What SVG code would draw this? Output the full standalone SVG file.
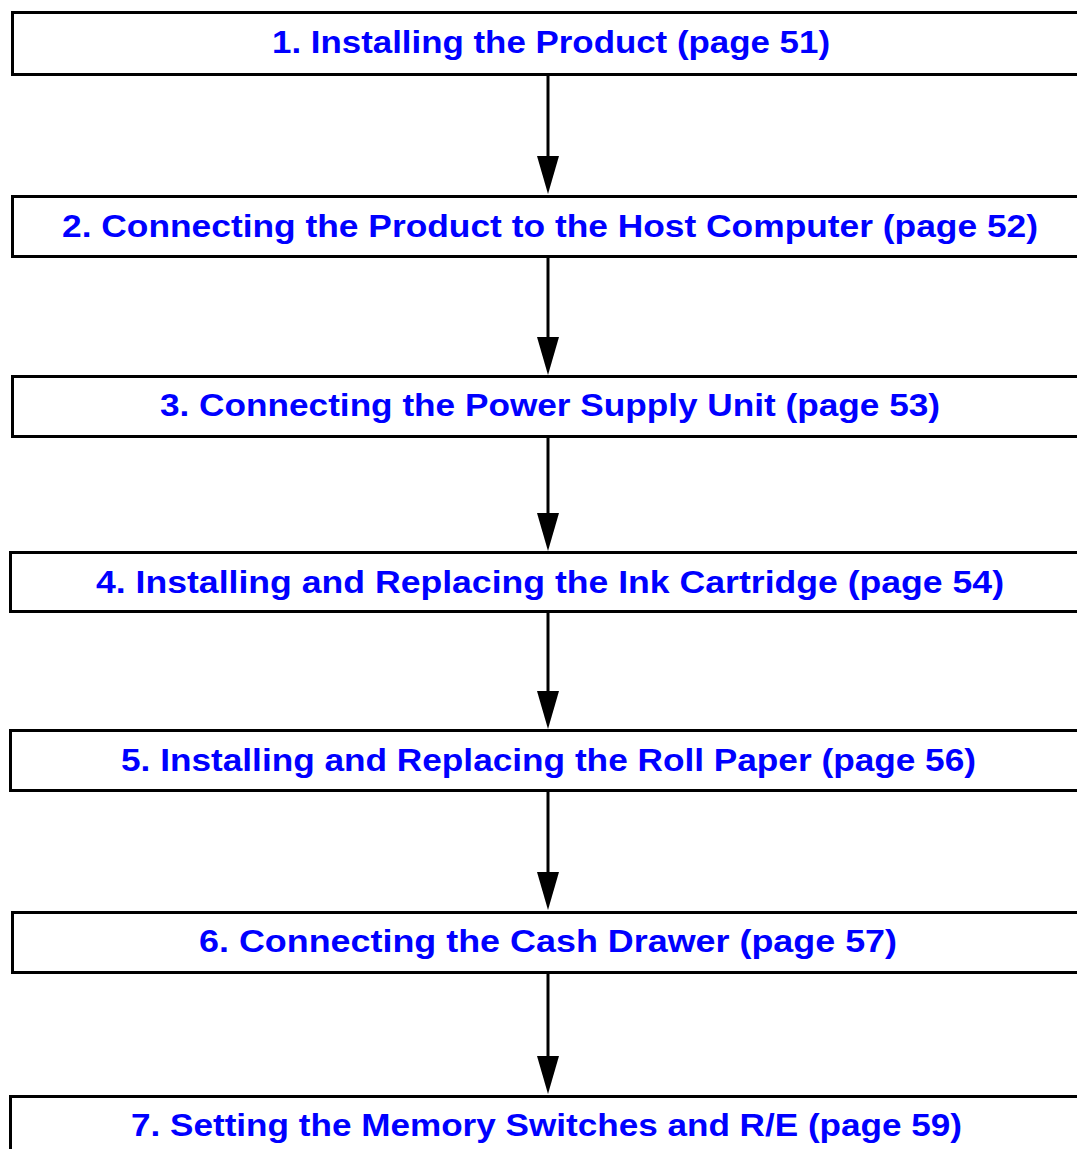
<svg xmlns="http://www.w3.org/2000/svg" width="1077" height="1149" viewBox="0 0 1077 1149">
<style>
.box{fill:#fff;stroke:#000;stroke-width:3}
.lbl{font-family:"Liberation Sans",Arial,sans-serif;font-weight:bold;font-size:32px;fill:#0000ff}
.conn{stroke:#000;stroke-width:3;fill:none}
</style>
<defs>
<marker id="ah" viewBox="0 0 22 38" refX="11" refY="38" markerWidth="22" markerHeight="38" markerUnits="userSpaceOnUse" orient="auto-start-reverse">
<path d="M0,0 L22,0 L11,38 Z" fill="#000"/>
</marker>
</defs>
<g id="connectors">
<line class="conn" x1="548" y1="75" x2="548" y2="157"/>
<path d="M537,156 L559,156 L548,194 Z"/>
<path class="conn" d="M548,257 V338"/>
<path d="M537,337 L559,337 L548,375 Z"/>
<path class="conn" d="M548,437 V514"/>
<path d="M537,513 L559,513 L548,551 Z"/>
<path class="conn" d="M548,612 V692"/>
<path d="M537,691 L559,691 L548,729 Z"/>
<path class="conn" d="M548,791 V873"/>
<path d="M537,872 L559,872 L548,910 Z"/>
<path class="conn" d="M548,973 V1057"/>
<path d="M537,1056 L559,1056 L548,1094 Z"/>
</g>
<g id="node1"><rect class="box" x="12.5" y="12.5" width="1080" height="62"/><text class="lbl" x="272" y="53" textLength="558" lengthAdjust="spacingAndGlyphs">1. Installing the Product (page 51)</text></g>
<g id="node2"><rect class="box" x="12.5" y="196.5" width="1080" height="60"/><text class="lbl" x="62" y="237" textLength="976" lengthAdjust="spacingAndGlyphs">2. Connecting the Product to the Host Computer (page 52)</text></g>
<g id="node3"><rect class="box" x="12.5" y="376.5" width="1080" height="60"/><text class="lbl" x="160" y="416" textLength="780" lengthAdjust="spacingAndGlyphs">3. Connecting the Power Supply Unit (page 53)</text></g>
<g id="node4"><rect class="box" x="10.5" y="552.5" width="1080" height="59"/><text class="lbl" x="96" y="593" textLength="908" lengthAdjust="spacingAndGlyphs">4. Installing and Replacing the Ink Cartridge (page 54)</text></g>
<g id="node5"><rect class="box" x="10.5" y="730.5" width="1080" height="60"/><text class="lbl" x="121" y="771" textLength="855" lengthAdjust="spacingAndGlyphs">5. Installing and Replacing the Roll Paper (page 56)</text></g>
<g id="node6"><rect class="box" x="12.5" y="912.5" width="1080" height="60"/><text class="lbl" x="199" y="952" textLength="698" lengthAdjust="spacingAndGlyphs">6. Connecting the Cash Drawer (page 57)</text></g>
<g id="node7"><rect class="box" x="10.5" y="1096.5" width="1080" height="80"/><text class="lbl" x="131" y="1136" textLength="831" lengthAdjust="spacingAndGlyphs">7. Setting the Memory Switches and R/E (page 59)</text></g>
</svg>
